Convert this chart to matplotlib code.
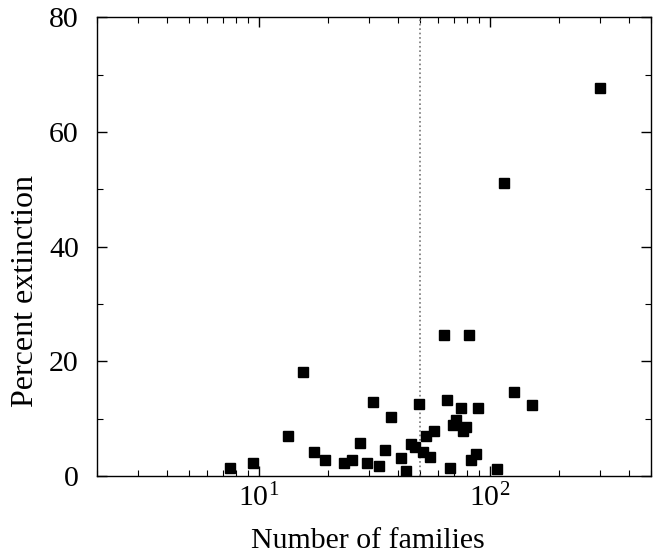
import matplotlib
matplotlib.use('Agg')
import matplotlib.pyplot as plt
from matplotlib.ticker import LogLocator, MultipleLocator, NullFormatter

plt.rcParams['font.family'] = ['Liberation Serif', 'DejaVu Serif']
plt.rcParams['mathtext.fontset'] = 'stix'

# number of families in each group and the percent that went extinct
families = [7.5, 9.5, 13.4, 15.5, 17.4, 19.4, 23.3, 25.3, 27.4, 29.4,
            31.4, 33.3, 35.4, 37.3, 41.3, 43.4, 45.5, 47.3, 49.2, 51.2,
            52.9, 55.1, 57.1, 63.3, 65.2, 67.2, 69.0, 71.3, 74.9, 76.9,
            79.0, 81.1, 83.1, 87.0, 89.0, 107.0, 126.8, 152.0, 115.0, 300.0]
extinction = [1.45, 2.2, 7.0, 18.2, 4.1, 2.7, 2.2, 2.8, 5.7, 2.2,
              12.8, 1.7, 4.5, 10.3, 3.1, 0.9, 5.6, 5.0, 12.6, 4.1,
              6.9, 3.3, 7.8, 24.6, 13.2, 1.3, 8.9, 9.8, 11.9, 7.9,
              8.5, 24.6, 2.8, 3.9, 11.8, 1.2, 14.6, 12.3, 51.1, 67.7]
cutoff = 50

fig = plt.figure(figsize=(6.53, 5.54), dpi=100)
ax = fig.add_axes([0.1485, 0.141, 0.849, 0.828])

ax.plot(families, extinction, 's', color='black', markersize=7.8, zorder=3)
ax.axvline(cutoff, color='#777777', linestyle=':', linewidth=1.2, zorder=2)

ax.set_xscale('log')
ax.set_xlim(2, 500)
ax.set_ylim(0, 80)
ax.xaxis.set_major_locator(LogLocator(base=10, numticks=10))
ax.xaxis.set_minor_locator(LogLocator(base=10, subs=range(2, 10), numticks=20))
ax.xaxis.set_minor_formatter(NullFormatter())
ax.yaxis.set_major_locator(MultipleLocator(20))
ax.yaxis.set_minor_locator(MultipleLocator(10))

ax.tick_params(which='both', direction='in', top=True, right=True, labelsize=21.5)
ax.tick_params(which='major', length=7, width=1)
ax.tick_params(which='minor', length=4, width=0.8)
ax.tick_params(axis='x', pad=6)
ax.tick_params(axis='y', pad=13)
for s in ax.spines.values():
    s.set_linewidth(1)

ax.set_xlabel('Number of families', fontsize=21.5, va='baseline')
ax.xaxis.set_label_coords(0.489, -0.157)
ax.set_ylabel('Percent extinction', fontsize=23, va='baseline')
ax.yaxis.set_label_coords(-0.1155, 0.402)

fig.savefig('out.png', dpi=100)
